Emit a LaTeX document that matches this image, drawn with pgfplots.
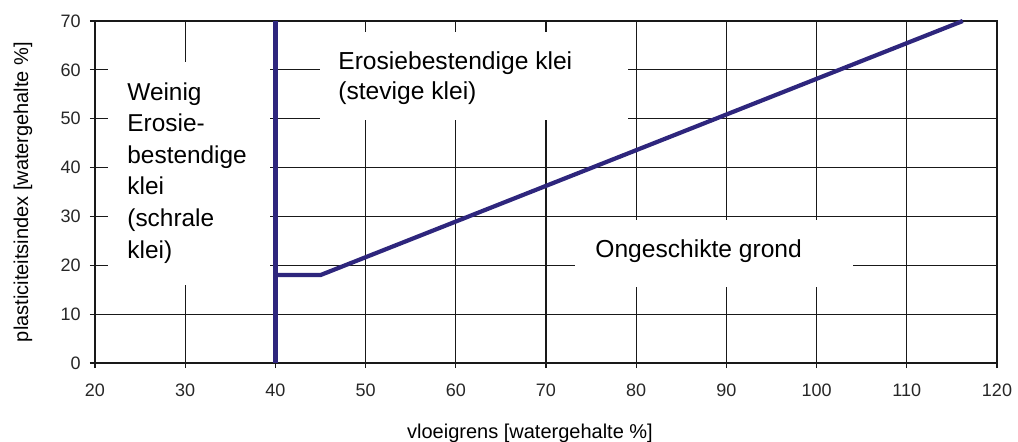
\documentclass[border=0pt]{standalone}
\usepackage{fontspec}
\setmainfont{Liberation Sans}
\usepackage{pgfplots}
\pgfplotsset{compat=1.18}
\definecolor{aline}{RGB}{46,38,125}
\begin{document}
\begin{tikzpicture}
\path[use as bounding box] (-47.5pt,-39pt) rectangle (461.5pt,181.5pt);
\begin{axis}[
 at={(0,0)}, anchor=south west,
 scale only axis, width=451pt, height=171pt,
 xmin=20, xmax=120, ymin=0, ymax=70,
 xtick={20,30,...,120}, ytick={0,10,...,70},
 grid=major, major grid style={black!90, line width=0.55pt},
 axis line style={black!90, line width=0.55pt},
 tick style={black!90, line width=0.55pt},
 tick align=outside, major tick length=2.5pt,
 xtick pos=bottom, ytick pos=left,
 /pgf/number format/assume math mode=true,
 ticklabel style={font=\fontsize{9}{10}\selectfont, text=black!85},
 xticklabel style={yshift=-4.2pt},
 yticklabel style={xshift=-1.2pt},
 xlabel={vloeigrens [watergehalte \%]},
 ylabel={plasticiteitsindex [watergehalte \%]},
 label style={font=\fontsize{7.65}{10}\selectfont},
 every axis x label/.style={at={([xshift=-8pt,yshift=-35pt]axis description cs:0.5,0)}, anchor=center},
 every axis y label/.style={at={([xshift=-36pt]axis description cs:0,0.5)}, anchor=center, rotate=90},
 clip=false,
]
\fill[white] (axis cs:44.94,49.73) rectangle (axis cs:79.09,67.74);
\fill[white] (axis cs:73.2,15.55) rectangle (axis cs:104.0,29.27);
\fill[white] (axis cs:21.44,15.96) rectangle (axis cs:39.4,61.6);
\addplot[aline, line width=2.1pt] coordinates {(40,0) (40,70)};
\addplot[aline, line width=2.1pt] coordinates {(40,18) (45,18) (116.2,70)};
\node[anchor=north west, inner sep=0pt, align=left, font=\fontsize{12.2}{15.8}\selectfont] at (axis cs:23.55,57.5) {Weinig\\Erosie-\\bestendige\\klei\\(schrale\\klei)};
\node[anchor=north west, inner sep=0pt, align=left, font=\fontsize{12.3}{15}\selectfont] at (axis cs:46.94,63.8) {Erosiebestendige klei\\(stevige klei)};
\node[anchor=base west, inner sep=0pt, font=\fontsize{12.3}{15}\selectfont] at (axis cs:75.43,21.5) {Ongeschikte grond};
\end{axis}
\end{tikzpicture}
\end{document}
